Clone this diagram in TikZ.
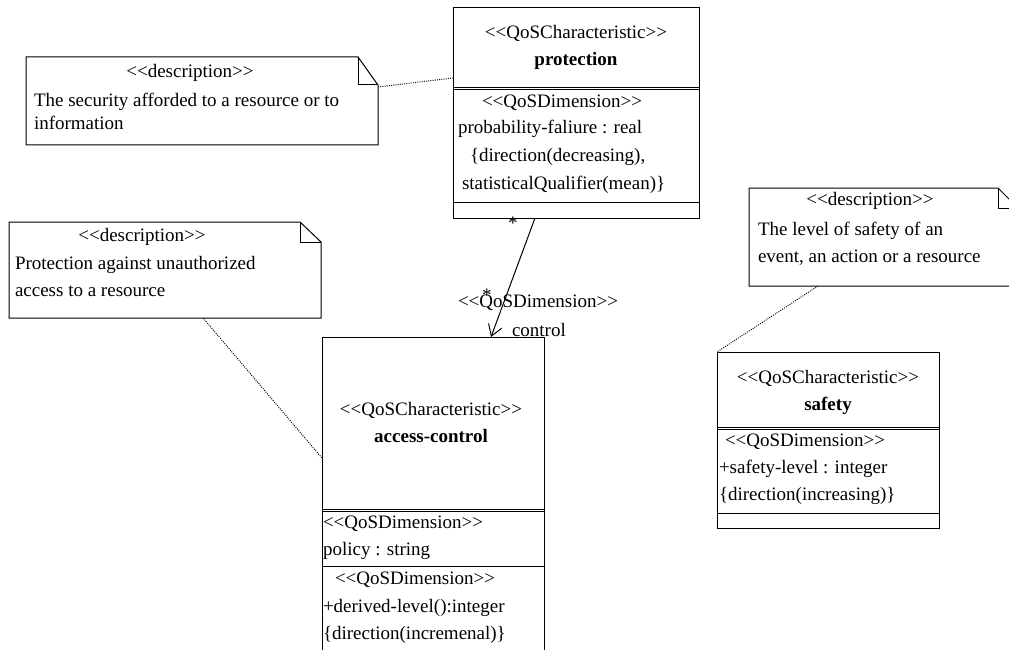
\documentclass[tikz,border=0pt]{standalone}
\usepackage{fontspec}
\setmainfont{Liberation Serif}
\usetikzlibrary{arrows.meta,calc}
\newcommand\stereo[1]{<\kern0pt<#1>\kern0pt>}

\begin{document}
\begin{tikzpicture}[x=1pt, y=-1pt,
    every node/.style={inner sep=0pt, outer sep=0pt, font=\fontsize{19}{23}\selectfont},
    umlbox/.style={draw, line width=1pt, anchor=north west},
    note/.style={anchor=north west},
    edge/.style={line width=1pt},
    tie/.style={line width=0.9pt, dash pattern=on 1pt off 1.2pt},
    lbl/.style={anchor=base west},
    ttl/.style={anchor=base}]

    \useasboundingbox (0,0) rectangle (1009,650);
    \clip (0,0) rectangle (1009,650);

    % Notes
    \node[note, minimum width=352pt, minimum height=88pt] (secnote) at (26,57) {};
    \draw[edge] (secnote.north west) -- ($(secnote.north east)+(-20,0)$)
        -- ($(secnote.north east)+(0,28)$) -- (secnote.south east)
        -- (secnote.south west) -- cycle;
    \draw[edge] ($(secnote.north east)+(-20,0)$) |- ($(secnote.north east)+(0,28)$);
    \node[note, minimum width=312pt, minimum height=96pt] (accnote) at (9,222) {};
    \draw[edge] (accnote.north west) -- ($(accnote.north east)+(-21,0)$)
        -- ($(accnote.north east)+(0,20)$) -- (accnote.south east)
        -- (accnote.south west) -- cycle;
    \draw[edge] ($(accnote.north east)+(-21,0)$) |- ($(accnote.north east)+(0,20)$);
    \node[note, minimum width=269pt, minimum height=98pt] (safnote) at (749,188) {};
    \draw[edge] (safnote.north west) -- ($(safnote.north east)+(-20,0)$)
        -- ($(safnote.north east)+(0,20)$) -- (safnote.south east)
        -- (safnote.south west) -- cycle;
    \draw[edge] ($(safnote.north east)+(-20,0)$) |- ($(safnote.north east)+(0,20)$);

    % Note texts
    \node[ttl] (secdesc) at (190,78) {\stereo{description}};
    \node[lbl] (sect1) at (34,107) {The security afforded to a resource or to};
    \node[lbl] (sect2) at (34,130) {information};
    \node[ttl] (accdesc) at (142,241) {\stereo{description}};
    \node[lbl] (acct1) at (15,269) {Protection against unauthorized};
    \node[lbl] (acct2) at (15,296) {access to a resource};
    \node[ttl] (safdesc) at (870,205) {\stereo{description}};
    \node[lbl] (saft1) at (758,235) {The level of safety of an};
    \node[lbl] (saft2) at (758,262) {event, an action or a resource};

    % protection
    \node[umlbox, minimum width=246pt, minimum height=210pt] (prot) at (453,8) {};
    \draw[edge] (453,88) -- (699,88) (453,90) -- (699,90);
    \draw[edge] (453,202) -- (699,202);
    \node[ttl] (protst) at (576,39) {\stereo{QoSCharacteristic}};
    \node[ttl] (protnm) at (576,66) {\textbf{protection}};
    \node[lbl] (protd1) at (482,108) {\stereo{QoSDimension}};
    \node[lbl] (protd2) at (458,134) {probability-faliure : real};
    \node[lbl] (protd3) at (470,161) {\{direction(decreasing),};
    \node[lbl] (protd4) at (462,189) {statisticalQualifier(mean)\}};

    % access-control
    \node[umlbox, minimum width=222pt, minimum height=330pt] (acc) at (322,337) {};
    \draw[edge] (322,509) -- (544,509) (322,511) -- (544,511);
    \draw[edge] (322,566) -- (544,566);
    \node[ttl] (accst) at (431,415) {\stereo{QoSCharacteristic}};
    \node[ttl] (accnm) at (431,442) {\textbf{access-control}};
    \node[lbl] (accd1) at (323,528) {\stereo{QoSDimension}};
    \node[lbl] (accd2) at (323,555) {policy : string};
    \node[lbl] (accd3) at (335,584) {\stereo{QoSDimension}};
    \node[lbl] (accd4) at (323,612) {+derived-level():integer};
    \node[lbl] (accd5) at (323,639) {\{direction(incremenal)\}};

    % safety
    \node[umlbox, minimum width=222pt, minimum height=176pt] (saf) at (717,352) {};
    \draw[edge] (717,427) -- (939,427) (717,429) -- (939,429);
    \draw[edge] (717,513) -- (939,513);
    \node[ttl] (safst) at (828,383) {\stereo{QoSCharacteristic}};
    \node[ttl] (safnm) at (828,410) {\textbf{safety}};
    \node[lbl] (safd1) at (725,446) {\stereo{QoSDimension}};
    \node[lbl] (safd2) at (719,473) {+safety-level : integer};
    \node[lbl] (safd3) at (719,500) {\{direction(increasing)\}};

    % Note ties
    \draw[tie] ($(secnote.north east)+(0,30)$) -- ($(prot.north west)+(0,70)$);
    \draw[tie] ($(accnote.south west)+(194,0)$) -- ($(acc.north west)+(0,121)$);
    \draw[tie] ($(safnote.south west)+(69,0)$) -- (saf.north west);

    % Dimension link
    \draw[edge, -{Straight Barb[length=11pt, width=14pt]}]
        ($(prot.south west)+(82,0)$) -- ($(acc.north west)+(169,0)$);
    \node[lbl] (star1) at (508,229) {*};
    \node[lbl] (star2) at (482,301) {*};
    \node[lbl] (linkst) at (458,307) {\stereo{QoSDimension}};
    \node[lbl] (linknm) at (512,336) {control};
\end{tikzpicture}
\end{document}
